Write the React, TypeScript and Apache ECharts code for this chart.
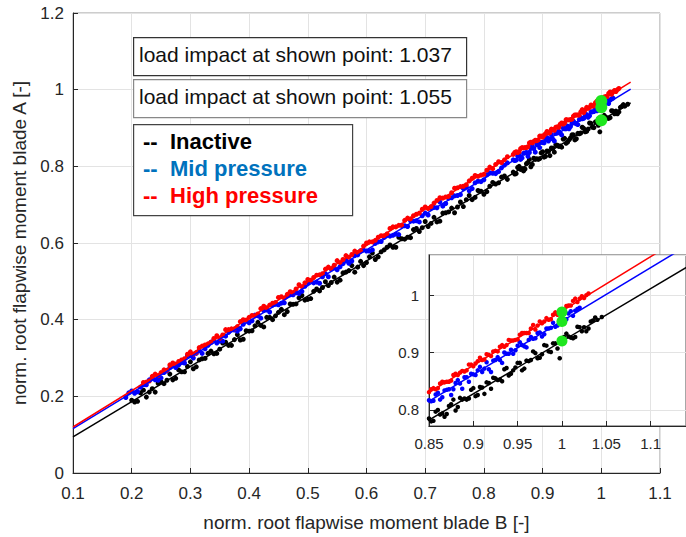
import React, { useEffect, useRef } from 'react';
import * as echarts from 'echarts';

// Tick labels / axis ranges
const mainXTicks = ['0.1', '0.2', '0.3', '0.4', '0.5', '0.6', '0.7', '0.8', '0.9', '1', '1.1'];
const mainYTicks = ['0', '0.2', '0.4', '0.6', '0.8', '1', '1.2'];

// Scatter samples [B, A]
const inactivePts: number[][] = [
  [0.20,0.190],[0.21,0.187],[0.22,0.216],[0.23,0.211],[0.24,0.211],[0.25,0.238],[0.26,0.242],[0.27,0.243],[0.28,0.269],[0.29,0.264],
  [0.30,0.290],[0.31,0.277],[0.32,0.298],[0.33,0.312],[0.34,0.311],[0.35,0.323],[0.36,0.341],[0.37,0.333],[0.38,0.361],[0.39,0.349],
  [0.40,0.370],[0.41,0.384],[0.42,0.385],[0.43,0.406],[0.44,0.400],[0.45,0.419],[0.46,0.413],[0.47,0.441],[0.48,0.441],[0.49,0.463],
  [0.50,0.453],[0.51,0.474],[0.52,0.475],[0.53,0.499],[0.54,0.497],[0.55,0.498],[0.56,0.522],[0.57,0.528],[0.58,0.524],[0.59,0.552],
  [0.60,0.549],[0.61,0.574],[0.62,0.564],[0.63,0.582],[0.64,0.595],[0.65,0.589],[0.66,0.611],[0.67,0.615],[0.68,0.635],[0.69,0.630],
  [0.70,0.656],[0.71,0.651],[0.72,0.655],[0.73,0.678],[0.74,0.681],[0.75,0.679],[0.76,0.707],[0.77,0.713],[0.78,0.713],[0.79,0.737],
  [0.80,0.727],[0.81,0.748],[0.82,0.754],[0.83,0.772],[0.84,0.766],
  [0.850,0.785],[0.855,0.781],[0.860,0.800],[0.865,0.794],[0.870,0.793],[0.875,0.810],[0.880,0.799],[0.885,0.821],[0.890,0.820],[0.895,0.820],
  [0.900,0.838],[0.905,0.826],[0.910,0.839],[0.915,0.848],[0.920,0.837],[0.925,0.855],[0.930,0.853],[0.935,0.871],[0.940,0.860],[0.945,0.869],
  [0.950,0.882],[0.955,0.869],[0.960,0.886],[0.965,0.887],[0.970,0.899],[0.975,0.891],[0.980,0.913],[0.985,0.902],[0.990,0.916],[0.995,0.907],
  [1.000,0.922],[1.005,0.933],[1.010,0.926],[1.015,0.927],[1.020,0.944],[1.025,0.944],[1.030,0.942],[1.035,0.956],[1.040,0.957],[1.045,0.962]
];
const inactivePts2: number[][] = [
  [0.205,0.185],[0.215,0.209],[0.225,0.198],[0.235,0.220],[0.245,0.234],[0.255,0.233],[0.265,0.258],[0.275,0.247],[0.285,0.264],[0.295,0.278],
  [0.305,0.272],[0.315,0.295],[0.325,0.299],[0.335,0.318],[0.345,0.312],[0.355,0.339],[0.365,0.333],[0.375,0.348],[0.385,0.347],[0.395,0.371],
  [0.405,0.371],[0.415,0.393],[0.425,0.381],[0.435,0.406],[0.445,0.410],[0.455,0.427],[0.465,0.421],[0.475,0.440],[0.485,0.457],[0.495,0.451],
  [0.505,0.455],[0.515,0.480],[0.525,0.484],[0.535,0.489],[0.545,0.511],[0.555,0.503],[0.565,0.524],[0.575,0.541],[0.585,0.537],[0.595,0.541],
  [0.605,0.564],[0.615,0.557],[0.625,0.577],[0.635,0.589],[0.645,0.589],[0.655,0.615],[0.665,0.610],[0.675,0.614],[0.685,0.638],[0.695,0.640],
  [0.705,0.643],[0.715,0.667],[0.725,0.657],[0.735,0.679],[0.745,0.691],[0.755,0.694],[0.765,0.695],[0.775,0.724],[0.785,0.719],[0.795,0.735],
  [0.805,0.734],[0.815,0.758],[0.825,0.757],[0.835,0.775],
  [0.8525,0.780],[0.8575,0.797],[0.8625,0.792],[0.8675,0.788],[0.8725,0.807],[0.8775,0.818],[0.8825,0.805],[0.8875,0.818],[0.8925,0.818],[0.8975,0.835],
  [0.9025,0.824],[0.9075,0.840],[0.9125,0.828],[0.9175,0.847],[0.9225,0.856],[0.9275,0.852],[0.9325,0.850],[0.9375,0.873],[0.9425,0.863],[0.9475,0.874],
  [0.9525,0.882],[0.9575,0.872],[0.9625,0.885],[0.9675,0.902],[0.9725,0.890],[0.9775,0.897],[0.9825,0.912],[0.9875,0.901],[0.9925,0.916],[0.9975,0.890],
  [1.0025,0.927],[1.0075,0.928],[1.0125,0.925],[1.0175,0.945],[1.0225,0.937],[1.0275,0.937],[1.0325,0.954],[1.0375,0.961]
];
const midPts: number[][] = [
  [0.19,0.197],[0.20,0.214],[0.21,0.212],[0.22,0.230],[0.23,0.243],[0.24,0.243],[0.25,0.248],[0.26,0.266],[0.27,0.281],[0.28,0.282],
  [0.29,0.287],[0.30,0.306],[0.31,0.312],[0.32,0.312],[0.33,0.333],[0.34,0.348],[0.35,0.344],[0.36,0.357],[0.37,0.374],[0.38,0.370],
  [0.39,0.388],[0.40,0.392],[0.41,0.412],[0.42,0.404],[0.43,0.425],[0.44,0.438],[0.45,0.439],[0.46,0.444],[0.47,0.465],[0.48,0.470],
  [0.49,0.474],[0.50,0.497],[0.51,0.496],[0.52,0.495],[0.53,0.520],[0.54,0.532],[0.55,0.530],[0.56,0.546],[0.57,0.547],[0.58,0.567],
  [0.59,0.580],[0.60,0.579],[0.61,0.582],[0.62,0.603],[0.63,0.615],[0.64,0.618],[0.65,0.623],[0.66,0.646],[0.67,0.643],[0.68,0.657],
  [0.69,0.655],[0.70,0.678],[0.71,0.691],[0.72,0.692],[0.73,0.696],[0.74,0.717],[0.75,0.723],[0.76,0.726],[0.77,0.747],[0.78,0.742],
  [0.79,0.761],[0.80,0.765],[0.81,0.783],[0.82,0.781],[0.83,0.796],[0.84,0.809],
  [0.850,0.817],[0.855,0.816],[0.860,0.830],[0.865,0.822],[0.870,0.835],[0.875,0.826],[0.880,0.847],[0.885,0.846],[0.890,0.857],[0.895,0.849],
  [0.900,0.862],[0.905,0.869],[0.910,0.866],[0.915,0.883],[0.920,0.866],[0.925,0.887],[0.930,0.887],[0.935,0.900],[0.940,0.898],[0.945,0.898],
  [0.950,0.912],[0.955,0.913],[0.960,0.909],[0.965,0.927],[0.970,0.925],[0.975,0.935],[0.980,0.932],[0.985,0.942],[0.990,0.952],[0.995,0.947],
  [1.000,0.957],[1.005,0.958],[1.010,0.972],[1.015,0.973],[1.020,0.978]
];
const midPts2: number[][] = [
  [0.195,0.209],[0.205,0.208],[0.215,0.224],[0.225,0.230],[0.235,0.249],[0.245,0.242],[0.255,0.262],[0.265,0.275],[0.275,0.275],[0.285,0.288],
  [0.295,0.306],[0.305,0.300],[0.315,0.319],[0.325,0.324],[0.335,0.341],[0.345,0.339],[0.355,0.344],[0.365,0.367],[0.375,0.373],[0.385,0.376],
  [0.395,0.398],[0.405,0.397],[0.415,0.410],[0.425,0.424],[0.435,0.420],[0.445,0.440],[0.455,0.443],[0.465,0.462],[0.475,0.465],[0.485,0.468],
  [0.495,0.487],[0.505,0.501],[0.515,0.498],[0.525,0.512],[0.535,0.512],[0.545,0.535],[0.555,0.538],[0.565,0.555],[0.575,0.553],[0.585,0.569],
  [0.595,0.582],[0.605,0.579],[0.615,0.599],[0.625,0.604],[0.635,0.622],[0.645,0.620],[0.655,0.622],[0.665,0.645],[0.675,0.658],[0.685,0.658],
  [0.695,0.671],[0.705,0.673],[0.715,0.693],[0.725,0.707],[0.735,0.703],[0.745,0.718],[0.755,0.724],[0.765,0.742],[0.775,0.736],[0.785,0.757],
  [0.795,0.760],[0.805,0.778],[0.815,0.782],[0.825,0.786],[0.835,0.803],
  [0.8525,0.815],[0.8575,0.827],[0.8625,0.818],[0.8675,0.834],[0.8725,0.836],[0.8775,0.836],[0.8825,0.852],[0.8875,0.837],[0.8925,0.857],[0.8975,0.863],
  [0.9025,0.861],[0.9075,0.875],[0.9125,0.872],[0.9175,0.871],[0.9225,0.886],[0.9275,0.892],[0.9325,0.882],[0.9375,0.898],[0.9425,0.905],[0.9475,0.904],
  [0.9525,0.918],[0.9575,0.911],[0.9625,0.922],[0.9675,0.924],[0.9725,0.934],[0.9775,0.928],[0.9825,0.942],[0.9875,0.943],[0.9925,0.945],[0.9975,0.956],
  [1.0025,0.958],[1.0075,0.968],[1.0125,0.964],[1.0175,0.976]
];
const highPts: number[][] = [
  [0.22,0.236],[0.23,0.240],[0.24,0.258],[0.25,0.262],[0.26,0.268],[0.27,0.287],[0.28,0.291],[0.29,0.298],[0.30,0.316],[0.31,0.314],
  [0.32,0.331],[0.33,0.337],[0.34,0.351],[0.35,0.351],[0.36,0.374],[0.37,0.376],[0.38,0.382],[0.39,0.400],[0.40,0.406],[0.41,0.410],
  [0.42,0.429],[0.43,0.431],[0.44,0.443],[0.45,0.458],[0.46,0.456],[0.47,0.473],[0.48,0.480],[0.49,0.486],[0.50,0.505],[0.51,0.510],
  [0.52,0.517],[0.53,0.532],[0.54,0.533],[0.55,0.554],[0.56,0.557],[0.57,0.563],[0.58,0.579],[0.59,0.579],[0.60,0.600],[0.61,0.603],
  [0.62,0.615],[0.63,0.619],[0.64,0.638],[0.65,0.642],[0.66,0.646],[0.67,0.665],[0.68,0.671],[0.69,0.678],[0.70,0.694],[0.71,0.695],
  [0.72,0.711],[0.73,0.717],[0.74,0.721],[0.75,0.743],[0.76,0.747],[0.77,0.752],[0.78,0.769],[0.79,0.774],[0.80,0.779],[0.81,0.798],
  [0.82,0.805],[0.83,0.810],[0.84,0.825],
  [0.850,0.831],[0.855,0.838],[0.860,0.838],[0.865,0.849],[0.870,0.849],[0.875,0.851],[0.880,0.863],[0.885,0.865],[0.890,0.867],[0.895,0.879],
  [0.900,0.876],[0.905,0.885],[0.910,0.887],[0.915,0.897],[0.920,0.894],[0.925,0.903],[0.930,0.910],[0.935,0.910],[0.940,0.922],[0.945,0.921],
  [0.950,0.923],[0.955,0.934],[0.960,0.934],[0.965,0.942],[0.970,0.940],[0.975,0.954],[0.980,0.954],[0.985,0.957],[0.990,0.966],[0.995,0.966],
  [1.000,0.974],[1.005,0.981],[1.010,0.982],[1.015,0.994],[1.020,0.994],[1.025,0.995],[1.030,1.003]
];
const highPts2: number[][] = [
  [0.225,0.237],[0.235,0.252],[0.245,0.254],[0.255,0.269],[0.265,0.282],[0.275,0.284],[0.285,0.295],[0.295,0.310],[0.305,0.310],[0.315,0.327],
  [0.325,0.334],[0.335,0.341],[0.345,0.358],[0.355,0.360],[0.365,0.374],[0.375,0.376],[0.385,0.395],[0.395,0.399],[0.405,0.411],[0.415,0.415],
  [0.425,0.435],[0.435,0.438],[0.445,0.445],[0.455,0.460],[0.465,0.466],[0.475,0.470],[0.485,0.491],[0.495,0.496],[0.505,0.503],[0.515,0.516],
  [0.525,0.520],[0.535,0.537],[0.545,0.542],[0.555,0.549],[0.565,0.567],[0.575,0.570],[0.585,0.575],[0.595,0.592],[0.605,0.603],[0.615,0.607],
  [0.625,0.619],[0.635,0.624],[0.645,0.642],[0.655,0.646],[0.665,0.659],[0.675,0.663],[0.685,0.675],[0.695,0.688],[0.705,0.690],[0.715,0.704],
  [0.725,0.718],[0.735,0.720],[0.745,0.731],[0.755,0.744],[0.765,0.748],[0.775,0.762],[0.785,0.776],[0.795,0.777],[0.805,0.790],[0.815,0.794],
  [0.825,0.812],[0.835,0.817],
  [0.8525,0.836],[0.8575,0.836],[0.8625,0.846],[0.8675,0.848],[0.8725,0.849],[0.8775,0.861],[0.8825,0.861],[0.8875,0.868],[0.8925,0.869],[0.8975,0.879],
  [0.9025,0.881],[0.9075,0.891],[0.9125,0.888],[0.9175,0.896],[0.9225,0.902],[0.9275,0.902],[0.9325,0.913],[0.9375,0.913],[0.9425,0.921],[0.9475,0.922],
  [0.9525,0.931],[0.9575,0.934],[0.9625,0.934],[0.9675,0.948],[0.9725,0.947],[0.9775,0.951],[0.9825,0.960],[0.9875,0.958],[0.9925,0.970],[0.9975,0.972],
  [1.0025,0.975],[1.0075,0.982],[1.0125,0.990],[1.0175,0.988],[1.0225,0.998],[1.0275,1.000]
];

// Fit lines (main: 0.1 .. 1.05, inset: extended)
const inactiveFit = [[0.1, 0.0945], [1.05, 0.9657]];
const midFit = [[0.1, 0.116], [1.05, 1.0014]];
const highFit = [[0.1, 0.12], [1.05, 1.0197]];
const inactiveFitInset = [[0.8, 0.7364], [1.2, 1.103]];
const midFitInset = [[0.8, 0.7684], [1.2, 1.141]];
const highFitInset = [[0.8, 0.7829], [1.2, 1.1617]];

// Shown points
const shownPts = [[1, 0.92], [1, 0.954], [1, 0.9706]];

const legendNames = ['Inactive', 'Mid pressure', 'High pressure'];
const legendColors = ['#000000', '#0072BD', '#FF0000'];
const impactTexts = ['load impact at shown point: 1.037', 'load impact at shown point: 1.055'];

const FONT = '"Liberation Sans", Arial, Helvetica, sans-serif';
const TXT = '#262626';

const fmt = (v: number) => String(Math.round(v * 1000) / 1000);

export default function App() {
  const ref = useRef<HTMLDivElement>(null);
  useEffect(() => {
    const chart = echarts.init(ref.current!, undefined, { renderer: 'svg' });
    const axisCommon = {
      axisLine: { show: true, lineStyle: { color: TXT, width: 1 } },
      axisTick: { show: true, inside: true, length: 5, lineStyle: { color: TXT } },
      splitLine: { show: true, lineStyle: { color: '#e3e3e3', width: 1 } },
    };
    const mkScatter = (data: number[][], color: string, size: number, xi: number, z: number) => ({
      type: 'scatter', data, xAxisIndex: xi, yAxisIndex: xi, symbolSize: size,
      itemStyle: { color, opacity: 1 }, z, clip: true, silent: true,
    });
    const mkLine = (data: number[][], color: string, xi: number, z: number, w: number) => ({
      type: 'line', data, xAxisIndex: xi, yAxisIndex: xi, showSymbol: false, symbol: 'none',
      lineStyle: { color, width: w }, z, clip: true, silent: true,
    });
    const graphics: any[] = [];
    impactTexts.forEach((t, i) => {
      graphics.push({
        type: 'rect', left: 133, top: 37 + i * 42, shape: { width: 333, height: 38 },
        style: { fill: '#fff', stroke: i === 0 ? '#333' : '#888', lineWidth: 1.2 }, z: 20,
      });
      graphics.push({
        type: 'text', left: 139, top: 44 + i * 42,
        style: { text: t, fill: '#111', font: `21px ${FONT}` }, z: 21,
      });
    });
    graphics.push({
      type: 'rect', left: 133, top: 124, shape: { width: 219, height: 91 },
      style: { fill: '#fff', stroke: '#444', lineWidth: 1.2 }, z: 20,
    });
    legendNames.forEach((n, i) => {
      graphics.push({
        type: 'text', left: 143, top: 130 + i * 27,
        style: { text: '--', fill: legendColors[i], font: `bold 22px ${FONT}` }, z: 21,
      });
      graphics.push({
        type: 'text', left: 170, top: 130 + i * 27,
        style: { text: n, fill: legendColors[i], font: `bold 22px ${FONT}` }, z: 21,
      });
    });

    const S = 5;
    const SI = 4.5;
    chart.setOption({
      animation: false,
      backgroundColor: '#fff',
      textStyle: { fontFamily: FONT },
      grid: [
        { left: 73, top: 13, right: 26, bottom: 60, show: true, borderColor: '#9a9a9a', borderWidth: 1, backgroundColor: '#fff', z: 0 },
        { left: 429, top: 255, right: 0, bottom: 111, show: true, borderColor: '#8a8a8a', borderWidth: 1.5, backgroundColor: '#fff', z: 10 },
      ],
      xAxis: [
        {
          ...axisCommon, gridIndex: 0, type: 'value', min: 0.1, max: 1.1, interval: 0.1,
          axisLabel: { color: TXT, fontSize: 17, margin: 12, fontFamily: FONT, formatter: (v: number) => mainXTicks[Math.round((v - 0.1) * 10)] ?? fmt(v) },
          name: 'norm. root flapwise moment blade B [-]', nameLocation: 'middle', nameGap: 40,
          nameTextStyle: { color: TXT, fontSize: 19, fontFamily: FONT },
        },
        {
          ...axisCommon, gridIndex: 1, type: 'value', min: 0.85, max: 1.14, splitNumber: 6, z: 11,
          axisLabel: { color: TXT, fontSize: 15, margin: 10, fontFamily: FONT, showMaxLabel: false, formatter: fmt },
        },
      ],
      yAxis: [
        {
          ...axisCommon, gridIndex: 0, type: 'value', min: 0, max: 1.2, interval: 0.2,
          axisLabel: { color: TXT, fontSize: 17, margin: 9, fontFamily: FONT, formatter: (v: number) => mainYTicks[Math.round(v * 5)] ?? fmt(v) },
          name: 'norm. root flapwise moment blade A [-]', nameLocation: 'middle', nameGap: 41,
          nameTextStyle: { color: TXT, fontSize: 19, fontFamily: FONT },
        },
        {
          ...axisCommon, gridIndex: 1, type: 'value', min: 0.772, max: 1.07, splitNumber: 3, z: 11,
          axisLabel: { color: TXT, fontSize: 15, margin: 10, fontFamily: FONT, showMinLabel: false, showMaxLabel: false, formatter: fmt },
        },
      ],
      series: [
        mkScatter(inactivePts.concat(inactivePts2), '#000000', S, 0, 2),
        mkScatter(midPts.concat(midPts2), '#0000FF', S, 0, 2),
        mkScatter(highPts.concat(highPts2), '#FF0000', S, 0, 2),
        mkLine(inactiveFit, '#000000', 0, 3, 1.5),
        mkLine(midFit, '#0000FF', 0, 3, 1.5),
        mkLine(highFit, '#FF0000', 0, 3, 1.5),
        mkScatter(shownPts, '#1EE61E', 12, 0, 4),
        mkScatter(inactivePts.concat(inactivePts2), '#000000', SI, 1, 12),
        mkScatter(midPts.concat(midPts2), '#0000FF', SI, 1, 12),
        mkScatter(highPts.concat(highPts2), '#FF0000', SI, 1, 12),
        mkLine(inactiveFitInset, '#000000', 1, 13, 1.5),
        mkLine(midFitInset, '#0000FF', 1, 13, 1.5),
        mkLine(highFitInset, '#FF0000', 1, 13, 1.5),
        mkScatter(shownPts, '#1EE61E', 11, 1, 14),
      ],
      graphic: graphics,
    });
    return () => chart.dispose();
  }, []);
  return (
    <div
      ref={ref}
      style={{ position: 'fixed', left: 0, top: 0, width: 686, height: 537, background: '#fff' }}
    />
  );
}
